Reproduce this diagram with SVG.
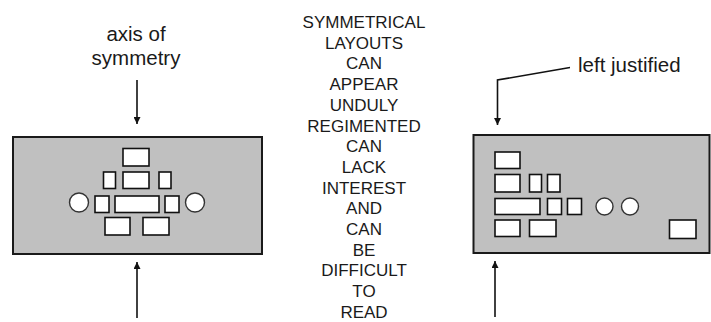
<svg xmlns="http://www.w3.org/2000/svg" width="711" height="322" viewBox="0 0 711 322">
<style>
.panel{fill:#c0c0c0;stroke:#1a1a1a;stroke-width:2}
.box{fill:#fff;stroke:#111;stroke-width:1.6}
.dot{fill:#fff;stroke:#333;stroke-width:1.4}
.lbl{font-family:"Liberation Sans",Arial,sans-serif;font-size:20.5px;fill:#1a1a1a}
.mid{font-family:"Liberation Sans",Arial,sans-serif;font-size:17px;fill:#1a1a1a;text-anchor:middle}
.arr{stroke:#111;stroke-width:1.6;fill:none}
</style>
<defs>
<marker id="ah2" viewBox="0 0 10 10" refX="10" refY="5" markerWidth="10" markerHeight="7" markerUnits="userSpaceOnUse" orient="auto">
<path d="M0,0 L10,5 L0,10 Z" fill="#111"/>
</marker>
</defs>
<g id="symmetric-layout">
<rect class="panel" x="13" y="137" width="249" height="117"/>
<rect class="box" x="123" y="148.5" width="26" height="17.5"/>
<rect class="box" x="103.5" y="172" width="12" height="16.5"/>
<rect class="box" x="123" y="172" width="26" height="16.5"/>
<rect class="box" x="159" y="172" width="12" height="16.5"/>
<circle class="dot" cx="79" cy="202.5" r="9.5"/>
<rect class="box" x="95" y="196" width="14" height="16.5"/>
<rect class="box" x="115" y="196" width="44" height="16.5"/>
<rect class="box" x="165" y="196" width="14" height="16.5"/>
<circle class="dot" cx="195" cy="202.5" r="9.5"/>
<rect class="box" x="105" y="217.5" width="25" height="17.5"/>
<rect class="box" x="143" y="217.5" width="26" height="17.5"/>
</g>
<g id="left-justified-layout">
<rect class="panel" x="473.5" y="135" width="236" height="118"/>
<rect class="box" x="495" y="152" width="25" height="16.5"/>
<rect class="box" x="495" y="174.5" width="25" height="17.5"/>
<rect class="box" x="529.5" y="174.5" width="12" height="17.5"/>
<rect class="box" x="547.5" y="174.5" width="12.5" height="17.5"/>
<rect class="box" x="495" y="198.5" width="45" height="16"/>
<rect class="box" x="547.5" y="198.5" width="14" height="16"/>
<rect class="box" x="567.5" y="198.5" width="14" height="16"/>
<circle class="dot" cx="604.5" cy="206.5" r="8.5"/>
<circle class="dot" cx="630" cy="206.5" r="8.5"/>
<rect class="box" x="495" y="220" width="25" height="16.5"/>
<rect class="box" x="529.5" y="220" width="26.5" height="16.5"/>
<rect class="box" x="669.5" y="220" width="26.5" height="18.5"/>
</g>
<g id="label-axis">
<text class="lbl" x="136" y="41" text-anchor="middle">axis of</text>
<text class="lbl" x="136" y="65" text-anchor="middle">symmetry</text>
</g>
<g id="label-left-justified">
<text class="lbl" x="578" y="72">left justified</text>
</g>
<g id="center-text">
<text class="mid" x="364" y="28">SYMMETRICAL</text>
<text class="mid" x="364" y="48.7">LAYOUTS</text>
<text class="mid" x="364" y="69.4">CAN</text>
<text class="mid" x="364" y="90.1">APPEAR</text>
<text class="mid" x="364" y="110.8">UNDULY</text>
<text class="mid" x="364" y="131.5">REGIMENTED</text>
<text class="mid" x="364" y="152.2">CAN</text>
<text class="mid" x="364" y="172.9">LACK</text>
<text class="mid" x="364" y="193.6">INTEREST</text>
<text class="mid" x="364" y="214.3">AND</text>
<text class="mid" x="364" y="235">CAN</text>
<text class="mid" x="364" y="255.7">BE</text>
<text class="mid" x="364" y="276.4">DIFFICULT</text>
<text class="mid" x="364" y="297.1">TO</text>
<text class="mid" x="364" y="317.8">READ</text>
</g>
<g id="connectors">
<line class="arr" x1="137" y1="80" x2="137" y2="124" marker-end="url(#ah2)"/>
<line class="arr" x1="137" y1="318" x2="137" y2="262" marker-end="url(#ah2)"/>
<polyline class="arr" points="570,67.5 497.5,80 497.5,125" marker-end="url(#ah2)"/>
<line class="arr" x1="495" y1="317" x2="495" y2="261" marker-end="url(#ah2)"/>
</g>
</svg>
